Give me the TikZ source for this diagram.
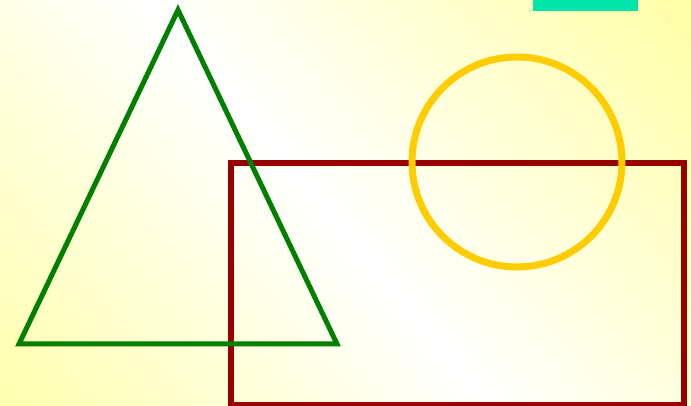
\documentclass[tikz,border=0pt]{standalone}
\usepackage{xcolor}
\usepackage{tikz}
\usetikzlibrary{calc}

\definecolor{bgyellow}{RGB}{255,255,160}
\definecolor{trigreen}{RGB}{0,128,0}
\definecolor{rectred}{RGB}{153,0,0}
\definecolor{circyellow}{RGB}{255,204,0}
\definecolor{barteal}{RGB}{0,230,170}

\begin{document}
\begin{tikzpicture}[x=1pt,y=1pt,
    outline/.style={line join=miter}]
  % background, white band along the diagonal
  \useasboundingbox (0,0) rectangle (691,406);
  \begin{scope}
    \clip (0,0) rectangle (691,406);
    \begin{scope}[transform canvas={rotate around={40:(320,203)}}]
      \shade[left color=bgyellow,right color=bgyellow,middle color=white]
        (-120,-497) rectangle (760,903);
    \end{scope}
  \end{scope}
  % shapes
  \fill[barteal] (533,395) rectangle (638,406);
  \draw[outline,rectred,line width=6pt] (231,243) rectangle (684,1);
  \draw[circyellow,line width=7pt] (517,244) circle[radius=105];
  \draw[outline,trigreen,line width=5pt] (178,396) -- (19,62) -- (337,62) -- cycle;
\end{tikzpicture}
\end{document}
